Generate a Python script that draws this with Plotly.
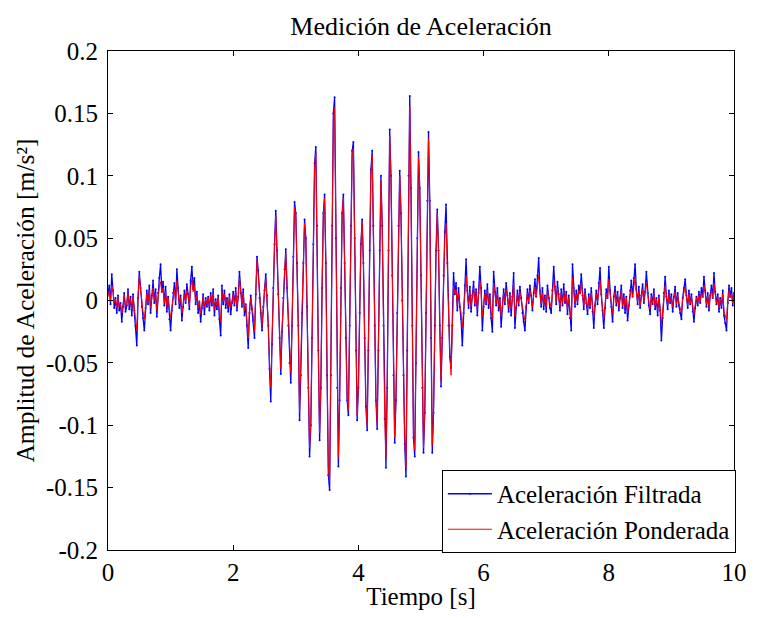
import numpy as np
import plotly.graph_objects as go

# Sampling step of both records [s]
paso_s = 0.02

# Filtered acceleration, in mm/s^2 (one row = 0.5 s)
acel_filtrada_mm = [
    5, 12, -3, 21, 8, -6, 2, -10, 4, -8, -2, -17, -5, 6, -9, -4, 9, -7, 3, -12, 5, -8, -20, -36, 2,
    23, 10, -5, -14, -24, -6, 8, -3, 12, -10, 4, 16, -2, 9, -13, 6, 18, 29, 7, 15, -4, 11, -9, 3, -15,
    -24, -8, 6, 14, -3, 25, 10, -6, 4, -16, -5, 8, -2, 13, 5, -7, 16, 27, 9, 18, -3, 7, -10, -1, -17,
    -6, 5, -11, 2, -5, 3, -8, 6, -4, 9, -12, 1, -7, 4, -15, -28, 12, -3, 8, -6, 2, -9, 5, -11, -2,
    7, -4, 10, -8, 3, 23, 6, -5, 9, -12, -3, -20, -38, -10, 4, -7, -16, -30, 5, 35, 24, 2, -10, -24, -5,
    8, 21, 4, -20, -55, -81, -35, 10, 45, 72, 40, 5, -30, -59, -25, 2, 25, 41, 10, -20, -50, -66, -20, 35, 79,
    70, 30, -20, -96, -60, -10, 30, 65, 50, -5, -70, -125, -100, -30, 45, 110, 123, 60, -40, -112, -70, 10, 70, 85, 30,
    -60, -140, -152, -60, 60, 150, 163, 50, -70, -133, -80, 10, 70, 85, 30, -30, -80, -92, -20, 60, 120, 127, 50, -40, -96,
    -70, -10, 45, 65, 30, -30, -85, -104, -40, 40, 105, 120, 60, -20, -80, -103, -40, 40, 100, 60, -20, -95, -134, -70, 40,
    137, 100, 20, -60, -114, -80, -10, 60, 104, 70, 0, -60, -115, -141, -40, 100, 164, 90, -20, -110, -125, -50, 50, 119, 90,
    20, -70, -122, -90, -10, 80, 135, 80, -30, -122, -90, -20, 40, 73, 40, -20, -69, -30, 20, 55, 77, 30, -20, -45, -54,
    -20, 22, 5, 14, -8, 10, -5, -15, -36, -10, 12, 33, 8, -6, 11, -9, 4, 15, -4, 9, -12, 6, 27, 10, -24,
    -5, 8, -3, 13, -6, 5, -14, -25, 23, 7, -4, 10, -8, 2, -21, -6, 9, -3, 14, 4, -9, 6, -12, 3, 22,
    -22, -6, 8, -4, 11, 2, -10, -17, -24, -5, 9, -2, 12, 4, -8, 6, 17, 3, 20, 34, 8, -5, 10, -7, 4,
    -9, 12, 2, -6, -10, 8, 27, 11, -3, 15, 5, -8, 9, -4, 13, -2, 7, -11, 4, -14, -24, 29, 10, -5, 8,
    -3, 12, 6, 21, 4, -7, 9, -2, -11, 5, -6, 10, -9, -22, -4, 8, -3, 14, 26, 5, -8, -22, -6, 9, 2,
    27, 8, -5, -17, 3, 11, -4, 7, -8, 2, 12, -6, 5, -10, 3, -16, -4, 8, 16, 3, 18, 29, 9, -3, 11,
    -6, 4, 13, -2, 7, 23, 6, -4, -11, 5, -3, 9, -7, 2, -12, 4, -8, -32, -14, 6, 19, 3, -7, 8, -2,
    5, -9, 3, 11, -5, 6, -4, -10, -15, 2, 10, 17, 4, -6, 8, -3, 5, -9, -17, -6, 3, -4, 7, -2, 10,
    3, 19, 8, -5, 6, -8, 4, 12, 2, 22, 7, -3, 5, -9, 2, -6, 8, -12, -18, -24, -2, 12, 3, 10, -4,
    6,
]

# Frequency-weighted acceleration, in mm/s^2 (one row = 0.5 s)
acel_ponderada_mm = [
    3, 8, 0, 12, 7, -2, 1, -6, 2, -5, -3, -10, -4, 4, -5, -2, 6, -4, 1, -7, 3, -5, -13, -24, 3,
    20, 9, -2, -9, -15, -5, 5, -1, 8, -6, 3, 10, 0, 6, -8, 3, 11, 15, 6, 10, -2, 7, -5, 2, -9,
    -14, -6, 4, 9, 0, 16, 7, -3, 2, -10, -4, 5, -1, 8, 4, -4, 10, 17, 7, 12, -1, 4, -6, 0, -11,
    -5, 3, -6, 1, -3, 2, -5, 4, -2, 6, -7, 0, -4, 2, -9, -17, 7, -1, 5, -3, 1, -5, 3, -6, -1,
    5, -2, 7, -5, 2, 18, 5, -3, 6, -8, -3, -15, -30, -8, 2, -5, -12, -25, 6, 32, 20, 3, -7, -20, -4,
    7, 18, 4, -18, -50, -70, -32, 10, 42, 68, 40, 6, -28, -55, -24, 2, 23, 38, 10, -18, -46, -58, -18, 33, 75,
    68, 30, -18, -90, -58, -8, 30, 62, 50, -4, -66, -118, -96, -28, 44, 106, 118, 58, -38, -106, -68, 10, 68, 82, 30,
    -58, -135, -145, -58, 58, 145, 155, 50, -66, -126, -78, 10, 68, 82, 30, -28, -76, -88, -18, 58, 116, 122, 50, -38, -92,
    -68, -10, 44, 63, 30, -28, -82, -100, -40, 40, 102, 116, 60, -18, -78, -98, -38, 38, 96, 60, -18, -92, -126, -68, 38,
    132, 98, 20, -58, -110, -78, -10, 58, 100, 70, 0, -58, -110, -134, -40, 96, 156, 88, -18, -106, -120, -48, 48, 115, 88,
    20, -68, -118, -88, -10, 78, 130, 78, -28, -116, -88, -20, 38, 70, 40, -18, -64, -28, 18, 50, 62, 28, -18, -42, -60,
    -15, 12, 6, 9, -4, 6, -3, -10, -22, -6, 8, 20, 6, -3, 7, -5, 3, 10, -2, 6, -7, 4, 16, 7, -13,
    -3, 5, -1, 8, -3, 3, -9, -15, 14, 5, -2, 6, -5, 1, -13, -4, 6, -1, 9, 3, -5, 4, -7, 2, 14,
    -13, -4, 5, -2, 7, 1, -6, -11, -16, -3, 6, -1, 8, 3, -5, 4, 11, 3, 13, 20, 6, -3, 6, -4, 2,
    -5, 7, 2, -4, -6, 5, 17, 8, -1, 10, 4, -5, 6, -2, 8, -1, 5, -7, 2, -9, -15, 18, 7, -3, 5,
    -2, 8, 5, 14, 3, -4, 6, -1, -7, 3, -4, 6, -6, -14, -3, 5, -1, 9, 16, 4, -5, -15, -4, 6, 2,
    17, 6, -3, -11, 2, 7, -2, 5, -5, 1, 8, -4, 3, -6, 2, -10, -3, 5, 10, 3, 12, 18, 7, -1, 7,
    -4, 3, 9, -1, 5, 14, 5, -2, -7, 3, -2, 6, -4, 1, -8, 2, -5, -19, -9, 4, 12, 3, -4, 5, -1,
    3, -5, 2, 7, -3, 4, -2, -6, -10, 1, 6, 11, 3, -4, 5, -2, 3, -5, -11, -4, 2, -2, 4, -1, 6,
    2, 12, 6, -3, 4, -5, 3, 8, 2, 14, 5, -2, 3, -6, 1, -4, 5, -8, -12, -16, -1, 8, 2, 6, -2,
    4,
]

# Axis ticks
x_ticks = [0, 2, 4, 6, 8, 10]
y_ticks = [-0.2, -0.15, -0.1, -0.05, 0, 0.05, 0.1, 0.15, 0.2]
y_tick_text = ["-0.2", "-0.15", "-0.1", "-0.05", "0", "0.05", "0.1", "0.15", "0.2"]

filtrada = np.array(acel_filtrada_mm) / 1000.0
ponderada = np.array(acel_ponderada_mm) / 1000.0
t_filtrada = np.round(np.arange(len(filtrada)) * paso_s, 3)
t_ponderada = np.round(np.arange(len(ponderada)) * paso_s, 3)

fuente = "Liberation Serif"

fig = go.Figure()
fig.add_trace(go.Scatter(
    x=t_filtrada, y=filtrada, mode="lines+markers",
    name="Aceleración Filtrada",
    line=dict(color="#0000ff", width=1.3),
    marker=dict(color="#0000ff", size=2),
))
fig.add_trace(go.Scatter(
    x=t_ponderada, y=ponderada, mode="lines",
    name="Aceleración Ponderada",
    line=dict(color="#ff0000", width=1),
))

eje = dict(
    showline=True, linecolor="black", linewidth=1, mirror="ticks",
    ticks="inside", ticklen=5, tickcolor="black", tickwidth=1,
    showgrid=False, zeroline=False,
    tickfont=dict(family=fuente, size=25, color="black"),
)

fig.update_layout(
    width=759, height=618,
    margin=dict(l=108, r=16, t=51, b=59),
    paper_bgcolor="white", plot_bgcolor="white",
    font=dict(family=fuente, size=25, color="black"),
    title=dict(text="Medición de Aceleración", x=421 / 759, xanchor="center",
               y=1 - 26 / 618, yanchor="middle",
               font=dict(family=fuente, size=26, color="black")),
    xaxis=dict(eje, range=[0, 10], tickvals=x_ticks, ticktext=[str(v) for v in x_ticks],
               title=dict(text="Tiempo [s]", standoff=2,
                          font=dict(family=fuente, size=25, color="black"))),
    yaxis=dict(eje, range=[-0.2, 0.2], tickvals=y_ticks, ticktext=y_tick_text,
               ticklabelstandoff=4,
               title=dict(text="Amplitud de Aceleración [m/s²]", standoff=3,
                          font=dict(family=fuente, size=25.5, color="black"))),
    legend=dict(x=1.003, y=-0.006, xanchor="right", yanchor="bottom",
                bgcolor="white", bordercolor="black", borderwidth=1,
                font=dict(family=fuente, size=25, color="black"),
                tracegroupgap=0, itemwidth=44),
    showlegend=True,
)

fig.write_html("out.html")
